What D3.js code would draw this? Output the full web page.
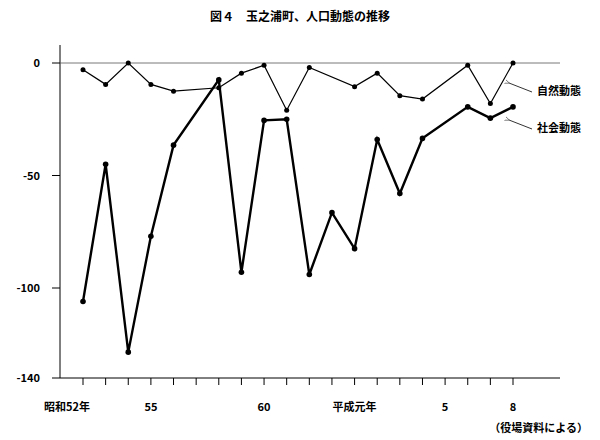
<!DOCTYPE html><html><head><meta charset="utf-8"><script src="https://cdn.jsdelivr.net/npm/d3@7"></script>
<style>body{margin:0;background:#fff}text{font-family:"Noto Sans CJK JP",sans-serif}</style></head><body><svg id="c" width="600" height="440"></svg>
<script>
const years=[52,53,54,55,56,57,58,59,60,61,62,63,64,65,66,67,68,69,70,71];
const natural=[-3,-9.5,0,-9.5,-12.5,null,-11,-4.5,-1,-21,-2,null,-10.5,-4.5,-14.5,-16,null,-1,-18,0];
const social=[-106,-45,-128.5,-77,-36.5,null,-7.5,-93,-25.5,-25,-94,-66.5,-82.5,-34,-58,-33.5,null,-19.5,-24.5,-19.5];
const tickLabels={52:"昭和52年",55:"55",60:"60",64:"平成元年",68:"5",71:"8"};
const yTicks=[0,-50,-100,-140];
const svg=d3.select("#c");
const x=d3.scaleLinear().domain([52,71]).range([83,513]);
const y=d3.scaleLinear().domain([-140,0]).range([378,63]);
svg.append("text").attr("x",300).attr("y",21).attr("text-anchor","middle").attr("font-size",12).attr("font-weight","bold").text("図４　玉之浦町、人口動態の推移");
svg.append("line").attr("x1",60).attr("x2",60).attr("y1",45).attr("y2",378).attr("stroke","#000");
svg.append("line").attr("x1",60).attr("x2",560).attr("y1",378).attr("y2",378).attr("stroke","#000");
svg.append("line").attr("x1",60).attr("x2",560).attr("y1",y(0)).attr("y2",y(0)).attr("stroke","#555").attr("stroke-width",0.8);
yTicks.forEach(t=>{svg.append("line").attr("x1",52).attr("x2",60).attr("y1",y(t)).attr("y2",y(t)).attr("stroke","#000");
svg.append("text").attr("x",40).attr("y",y(t)+4).attr("text-anchor","end").attr("font-size",11).attr("font-weight","bold").text(t===0?"0":"-"+(-t));});
years.forEach(v=>{svg.append("line").attr("x1",x(v)).attr("x2",x(v)).attr("y1",378).attr("y2",385).attr("stroke","#000");
if(tickLabels[v])svg.append("text").attr("x",v===52?67:x(v)).attr("y",411).attr("text-anchor","middle").attr("font-size",11).attr("font-weight","bold").text(tickLabels[v]);});
function draw(vals,w,r){const pts=years.map((v,i)=>[v,vals[i]]).filter(d=>d[1]!==null);
svg.append("path").datum(pts).attr("d",d3.line().x(d=>x(d[0])).y(d=>y(d[1]))).attr("fill","none").attr("stroke","#000").attr("stroke-width",w);
svg.selectAll(null).data(pts).enter().append("circle").attr("cx",d=>x(d[0])).attr("cy",d=>y(d[1])).attr("r",r);}
draw(natural,1.2,2.5);draw(social,2.4,2.8);
svg.append("defs").append("marker").attr("id","ah").attr("viewBox","0 0 10 10").attr("refX",1).attr("refY",5).attr("markerWidth",6).attr("markerHeight",6).attr("orient","auto").append("path").attr("d","M10,1 L0,5 L10,9").attr("fill","none").attr("stroke","#000");
[[83,"自然動態"],[120,"社会動態"]].forEach(([yy,t])=>{svg.append("line").attr("x1",532).attr("y1",yy+9).attr("x2",509).attr("y2",yy).attr("stroke","#000").attr("stroke-width",0.8).attr("marker-start",null).attr("marker-end","url(#ah)");
svg.append("text").attr("x",537).attr("y",yy+12).attr("font-size",11).attr("font-weight","bold").text(t);});
svg.append("text").attr("x",588).attr("y",432).attr("text-anchor","end").attr("font-size",11).attr("font-weight","bold").text("（役場資料による）");
</script></body></html>
